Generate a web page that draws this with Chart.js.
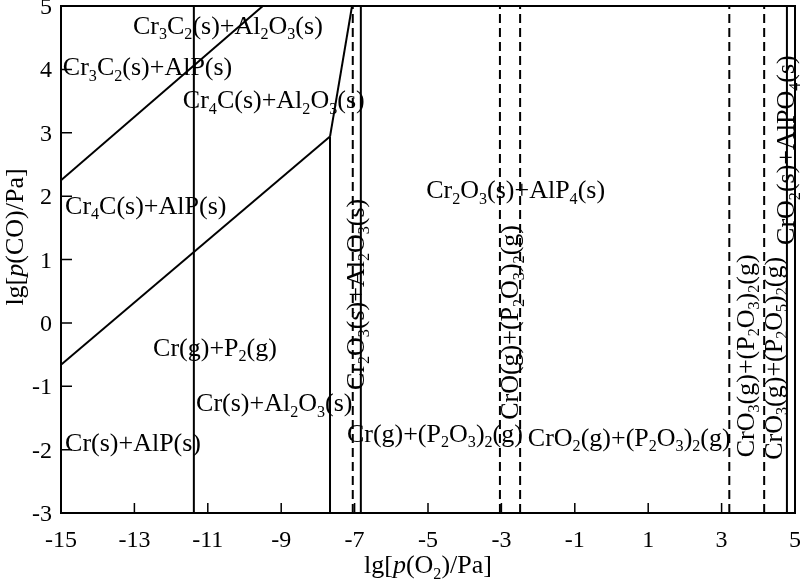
<!DOCTYPE html>
<html><head><meta charset="utf-8">
<script src="https://cdn.jsdelivr.net/npm/chart.js@4.4.0/dist/chart.umd.min.js"></script>
<style>html,body{margin:0;padding:0;background:#fff}#wrap{width:800px;height:581px}</style>
</head><body><div id="wrap"><canvas id="c" width="800" height="581"></canvas></div>
<script>
// ---- tick values ----
const xTicks = [-15, -13, -11, -9, -7, -5, -3, -1, 1, 3, 5];
const yTicks = [-3, -2, -1, 0, 1, 2, 3, 4, 5];

// ---- boundary lines: x = lg[p(O2)/Pa], y = lg[p(CO)/Pa] ----
const cr3c2Cr4cX = [-15, -9.5];
const cr3c2Cr4cY = [2.25, 5];
const cr4cCrX = [-15, -7.67];
const cr4cCrY = [-0.66, 2.94];
const carbideOxideX = [-7.67, -7.07];
const carbideOxideY = [2.94, 5];
const alpAl2o3X = [-11.38, -11.38];
const alpAl2o3Y = [-3, 5];
const crCr2o3X = [-7.67, -7.67];
const crCr2o3Y = [-3, 2.94];
const crGasDashX = [-7.05, -7.05];
const crGasDashY = [-3, 5];
const cr2o3SolidX = [-6.83, -6.83];
const cr2o3SolidY = [-3, 5];
const croDashX = [-3.04, -3.04];
const croDashY = [-3, 5];
const cro2DashX = [-2.49, -2.49];
const cro2DashY = [-3, 5];
const cro3DashX = [3.21, 3.21];
const cro3DashY = [-3, 5];
const p2o5DashX = [4.16, 4.16];
const p2o5DashY = [-3, 5];
const alpo4SolidX = [4.78, 4.78];
const alpo4SolidY = [-3, 5];

// ---- region labels ( _x = subscript, ~ toggles italic ) ----
const labelTexts = [
  'Cr_3C_2(s)+Al_2O_3(s)', 'Cr_3C_2(s)+AlP(s)', 'Cr_4C(s)+Al_2O_3(s)', 'Cr_4C(s)+AlP(s)',
  'Cr_2O_3(s)+AlP_4(s)', 'Cr(g)+P_2(g)', 'Cr(s)+Al_2O_3(s)', 'Cr(s)+AlP(s)',
  'Cr(g)+(P_2O_3)_2(g)', 'CrO_2(g)+(P_2O_3)_2(g)'
];
const labelX = [-13.04, -14.95, -11.68, -14.89, -5.05, -12.49, -11.32, -14.89, -7.21, -2.28];
const labelY = [4.70, 4.04, 3.52, 1.86, 2.10, -0.38, -1.26, -1.88, -1.74, -1.80];

const vLabelTexts = [
  'Cr_2O_3(s)+Al_2O_3(s)', 'CrO(g)+(P_2O_3)_2(g)', 'CrO_3(g)+(P_2O_3)_2(g)',
  'CrO_3(g)+(P_2O_5)_2(g)', 'CrO_2(s)+AlPO_4(s)'
];
const vLabelX = [-6.99, -2.77, 3.64, 4.40, 4.75];
const vLabelY = [-1.06, -1.53, -2.12, -2.16, 1.23];

const xTitle = 'lg[~p~(O_2)/Pa]';
const yTitle = 'lg[~p~(CO)/Pa]';

// ---- helpers ----
const FAM = '"Liberation Serif", "Times New Roman", serif';
function parseRich(s) {
  const segs = []; let it = false;
  for (let i = 0; i < s.length; i++) {
    const ch = s[i];
    if (ch === '~') { it = !it; continue; }
    if (ch === '_') { segs.push({ t: s[i + 1], sub: true, it }); i++; continue; }
    segs.push({ t: ch, sub: false, it });
  }
  return segs;
}
function fontFor(g, size) { return (g.it ? 'italic ' : '') + (g.sub ? size * 0.62 : size) + 'px ' + FAM; }
function drawRich(ctx, s, x, y, size, align) {
  const segs = parseRich(s);
  let w = 0;
  for (const g of segs) { ctx.font = fontFor(g, size); w += ctx.measureText(g.t).width; }
  let cx = align === 'center' ? x - w / 2 : align === 'right' ? x - w : x;
  ctx.textAlign = 'left'; ctx.textBaseline = 'alphabetic';
  for (const g of segs) {
    ctx.font = fontFor(g, size);
    ctx.fillText(g.t, cx, y + (g.sub ? size * 0.22 : 0));
    cx += ctx.measureText(g.t).width;
  }
}
function pts(xs, ys) { return xs.map((x, i) => ({ x, y: ys[i] })); }
function lineDs(xs, ys, dashed) {
  return {
    type: 'line', data: pts(xs, ys), borderColor: '#000', borderWidth: 2,
    borderDash: dashed ? [9, 5] : [], pointRadius: 0, fill: false, tension: 0, showLine: true
  };
}

const decor = {
  id: 'decor',
  afterDatasetsDraw(chart) {
    const { ctx, chartArea: a, scales: { x, y } } = chart;
    ctx.save();
    ctx.strokeStyle = '#000'; ctx.fillStyle = '#000'; ctx.lineWidth = 2;
    ctx.strokeRect(a.left, a.top, a.right - a.left, a.bottom - a.top);
    // inward ticks
    ctx.lineWidth = 1.5;
    ctx.beginPath();
    for (const v of xTicks) { const px = x.getPixelForValue(v); ctx.moveTo(px, a.bottom); ctx.lineTo(px, a.bottom - 10); }
    for (const v of yTicks) { const py = y.getPixelForValue(v); ctx.moveTo(a.left, py); ctx.lineTo(a.left + 11, py); }
    ctx.stroke();
    // tick labels
    ctx.font = '24px ' + FAM;
    ctx.textBaseline = 'alphabetic';
    ctx.textAlign = 'center';
    for (const v of xTicks) ctx.fillText(String(v), x.getPixelForValue(v), a.bottom + 34);
    ctx.textAlign = 'right';
    for (const v of yTicks) ctx.fillText(String(v), a.left - 9, y.getPixelForValue(v) + 8);
    // axis titles
    drawRich(ctx, xTitle, (a.left + a.right) / 2, 573, 26, 'center');
    ctx.save();
    ctx.translate(23, 237); ctx.rotate(-Math.PI / 2);
    drawRich(ctx, yTitle, 0, 0, 26, 'center');
    ctx.restore();
    // region labels
    const S = 26;
    labelTexts.forEach((t, i) => {
      drawRich(ctx, t, x.getPixelForValue(labelX[i]), y.getPixelForValue(labelY[i]) + S * 0.33, S, 'left');
    });
    vLabelTexts.forEach((t, i) => {
      ctx.save();
      ctx.translate(x.getPixelForValue(vLabelX[i]), y.getPixelForValue(vLabelY[i]));
      ctx.rotate(-Math.PI / 2);
      drawRich(ctx, t, 0, S * 0.33, S, 'left');
      ctx.restore();
    });
    ctx.restore();
  }
};

new Chart(document.getElementById('c'), {
  type: 'scatter',
  data: {
    datasets: [
      lineDs(cr3c2Cr4cX, cr3c2Cr4cY, false),
      lineDs(cr4cCrX, cr4cCrY, false),
      lineDs(carbideOxideX, carbideOxideY, false),
      lineDs(alpAl2o3X, alpAl2o3Y, false),
      lineDs(crCr2o3X, crCr2o3Y, false),
      lineDs(crGasDashX, crGasDashY, true),
      lineDs(cr2o3SolidX, cr2o3SolidY, false),
      lineDs(croDashX, croDashY, true),
      lineDs(cro2DashX, cro2DashY, true),
      lineDs(cro3DashX, cro3DashY, true),
      lineDs(p2o5DashX, p2o5DashY, true),
      lineDs(alpo4SolidX, alpo4SolidY, false)
    ]
  },
  options: {
    responsive: false, animation: false, devicePixelRatio: 1,
    layout: { padding: { left: 0, right: 5, top: 6, bottom: 0 } },
    plugins: { legend: { display: false }, tooltip: { enabled: false } },
    scales: {
      x: {
        type: 'linear', min: -15, max: 5,
        ticks: { display: false }, grid: { display: false, drawTicks: false }, border: { display: false },
        afterFit(s) { s.height = 68; }
      },
      y: {
        type: 'linear', min: -3, max: 5,
        ticks: { display: false }, grid: { display: false, drawTicks: false }, border: { display: false },
        afterFit(s) { s.width = 61; }
      }
    }
  },
  plugins: [decor]
});
</script>
</body></html>
